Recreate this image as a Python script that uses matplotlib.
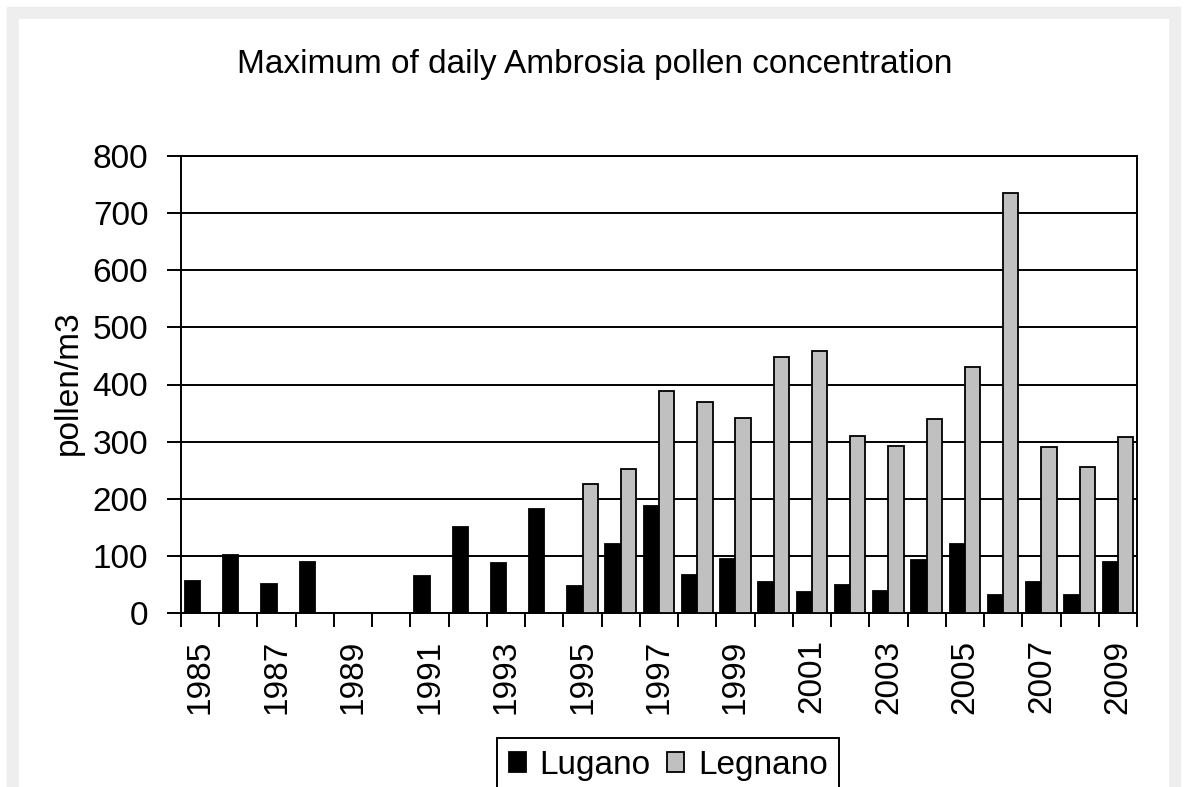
import numpy as np
import matplotlib
matplotlib.use("Agg")
import matplotlib.pyplot as plt
from matplotlib.patches import Rectangle

plt.rcParams['font.family'] = ['Liberation Sans', 'DejaVu Sans']

years = list(range(1985, 2010))
lugano = [56, 101, 50, 90, None, None, 65, 151, 87, 182,
          48, 120, 187, 67, 95, 55, 37, 49, 38, 93,
          121, 32, 54, 32, 90]
legnano = [None, None, None, None, None, None, None, None, None, None,
           225, 252, 388, 370, 342, 448, 459, 310, 292, 339,
           431, 736, 290, 256, 308]
yticks = [0, 100, 200, 300, 400, 500, 600, 700, 800]

W, H = 1185, 787
fig = plt.figure(figsize=(W / 100, H / 100), dpi=100)
fig.patch.set_facecolor('white')

# grey frame and white panel behind the chart
fig.patches.append(Rectangle((7 / W, 0), 1173 / W, (H - 7) / H,
                             transform=fig.transFigure, color='#eeeeee', zorder=-10))
fig.patches.append(Rectangle((19 / W, 0), 1149 / W, (H - 19) / H,
                             transform=fig.transFigure, color='white', zorder=-9))

ax = fig.add_axes([181 / W, 1 - 613 / H, (1137 - 181) / W, (613 - 156) / H])
ax.set_facecolor('none')

x = np.arange(len(years))
lug = np.array([np.nan if v is None else v for v in lugano], dtype=float)
leg = np.array([np.nan if v is None else v for v in legnano], dtype=float)
w = 0.4
ax.bar(x - w / 2, lug, w, color='black', edgecolor='black', linewidth=1.3,
       label='Lugano', zorder=3)
ax.bar(x + w / 2, leg, w, color='#c0c0c0', edgecolor='black', linewidth=1.3,
       label='Legnano', zorder=3)

ax.set_xlim(-0.5, len(years) - 0.5)
ax.set_ylim(0, 800)
ax.set_yticks(yticks)
ax.set_yticklabels([str(v) for v in yticks], fontsize=24)
ax.yaxis.grid(True, color='black', linewidth=1.4)
ax.set_axisbelow(True)
ax.tick_params(axis='y', length=10, width=1.4, pad=13.5, colors='black')

ax.set_xticks(np.arange(-0.5, len(years), 1))
ax.set_xticklabels([])
ax.tick_params(axis='x', which='major', length=10, width=1.4)
ax.set_xticks(x[::2], minor=True)
ax.set_xticklabels([str(y) for y in years[::2]], minor=True,
                   rotation=90, fontsize=24, va='top', ha='center')
ax.tick_params(axis='x', which='minor', length=0, pad=19)

for s in ax.spines.values():
    s.set_linewidth(1.4)
    s.set_color('black')

fig.text(595 / W, 1 - 65 / H, 'Maximum of daily Ambrosia pollen concentration',
         fontsize=24, ha='center', va='center')
fig.text(68 / W, 1 - 383 / H, 'pollen/m3', fontsize=24, rotation=90,
         ha='center', va='center')

lg = ax.legend(loc='upper left', bbox_to_anchor=(497 / W, 1 - 738 / H),
               bbox_transform=fig.transFigure, ncol=2, fontsize=24,
               frameon=True, fancybox=False, framealpha=1, borderaxespad=0,
               handlelength=0.52, handleheight=0.52, handletextpad=0.4,
               columnspacing=0.5, borderpad=0.35)
lg.get_frame().set_edgecolor('black')
lg.get_frame().set_linewidth(1.4)

fig.savefig('out.png', dpi=100)
